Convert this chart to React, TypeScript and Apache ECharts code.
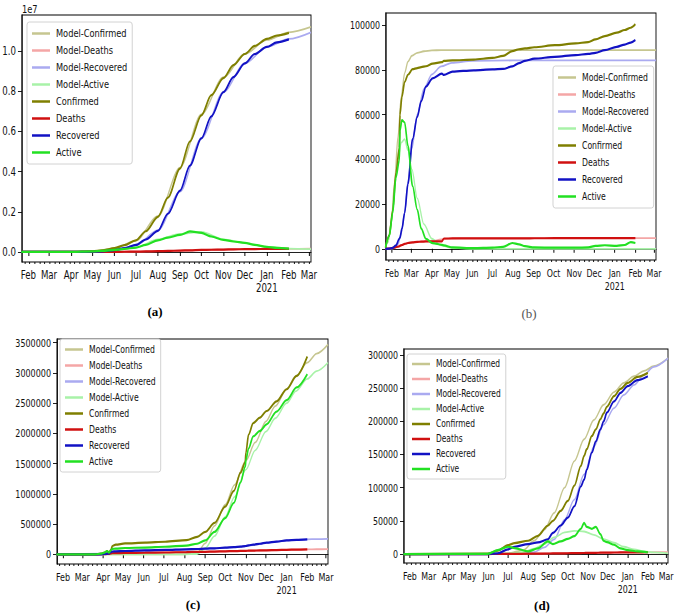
import React, { useEffect, useRef } from "react";
import * as echarts from "echarts";

// ---------- shared axis values ----------
const MONTH_TICKS = ["2020-02-01","2020-03-01","2020-04-01","2020-05-01","2020-06-01","2020-07-01","2020-08-01","2020-09-01","2020-10-01","2020-11-01","2020-12-01","2021-01-01","2021-02-01","2021-03-01"];
const MONTH_LABELS = ["Feb","Mar","Apr","May","Jun","Jul","Aug","Sep","Oct","Nov","Dec","Jan\n2021","Feb","Mar"];
const SERIES_NAMES = ["Confirmed","Deaths","Recovered","Active"];

// ---------- panel (a) : values in units of 1e7 ----------
const aDates = ["2020-01-22","2020-03-01","2020-04-01","2020-05-01","2020-05-15","2020-06-01","2020-06-15","2020-07-01","2020-07-15","2020-08-01","2020-08-15","2020-09-01","2020-09-15","2020-10-01","2020-10-15","2020-11-01","2020-11-15","2020-12-01","2020-12-15","2021-01-01","2021-01-15","2021-02-01"];
const aConfirmed = [0,0,0.0002,0.0035,0.008,0.019,0.034,0.058,0.103,0.175,0.27,0.415,0.55,0.68,0.78,0.865,0.93,0.985,1.025,1.06,1.077,1.09];
const aDeaths = [0,0,0,0.0001,0.0003,0.0005,0.001,0.0017,0.0025,0.004,0.005,0.007,0.0082,0.01,0.011,0.012,0.013,0.0137,0.0144,0.0149,0.0152,0.0154];
const aRecovered = [0,0,0,0.001,0.003,0.009,0.019,0.035,0.062,0.105,0.19,0.305,0.43,0.565,0.675,0.795,0.87,0.938,0.985,1.02,1.043,1.058];
const aActive = [0,0,0.0002,0.0025,0.005,0.01,0.015,0.022,0.035,0.058,0.071,0.085,0.102,0.095,0.077,0.06,0.052,0.045,0.035,0.025,0.02,0.017];
const aModelDates = ["2020-01-22","2020-04-01","2020-05-01","2020-06-01","2020-07-01","2020-08-01","2020-09-01","2020-10-01","2020-11-01","2020-12-01","2021-01-01","2021-02-01","2021-03-04"];
const aModelConfirmed = [0,0,0.003,0.018,0.056,0.178,0.42,0.685,0.87,0.985,1.055,1.093,1.12];
const aModelDeaths = [0,0,0.0001,0.0005,0.0017,0.004,0.007,0.01,0.012,0.0137,0.0149,0.0155,0.016];
const aModelRecovered = [0,0,0.001,0.008,0.033,0.108,0.30,0.565,0.795,0.938,1.02,1.06,1.093];
const aModelActive = [0,0,0.002,0.01,0.022,0.062,0.09,0.1,0.063,0.045,0.025,0.017,0.014];
const aYTicks = [0,0.2,0.4,0.6,0.8,1.0];

// ---------- panel (b) : values in thousands ----------
const bDates = ["2020-01-22","2020-01-28","2020-02-02","2020-02-07","2020-02-12","2020-02-13","2020-02-16","2020-02-20","2020-02-25","2020-03-03","2020-03-10","2020-03-16","2020-03-23","2020-04-02","2020-04-16","2020-04-19","2020-05-02","2020-06-03","2020-07-01","2020-07-17","2020-07-31","2020-08-10","2020-08-19","2020-09-02","2020-10-03","2020-11-03","2020-11-22","2020-12-03","2020-12-17","2021-01-04","2021-01-16","2021-01-25","2021-02-01"];
const bConfirmed = [0.5,6,17,34,45,60,68,74.5,77.8,80.3,80.8,81.2,81.6,82.8,83.4,84,84.2,84.6,85.3,86.2,88.4,89.2,89.6,90.1,91,91.8,92.4,93.6,95.1,96.6,97.8,98.8,100.4];
const bDeaths = [0,0.1,0.4,0.7,1.1,1.4,1.7,2.2,2.6,2.9,3.1,3.2,3.3,3.3,3.35,4.6,4.63,4.64,4.65,4.66,4.68,4.7,4.7,4.72,4.74,4.75,4.76,4.77,4.78,4.8,4.8,4.8,4.8];
const bRecovered = [0,0.1,0.4,1.5,4.5,5,9,16,29,49,59,66,72.5,76.2,78.3,77.7,79.2,79.8,80.2,80.4,81.5,83,84,85,85.8,86.6,87.1,87.6,88.8,90.3,91.3,92.2,93.3];
const bActive = [0.5,5.8,16,32,39.5,53,57.5,56.5,46,28,17.5,9,4.5,2.5,1.8,1.5,0.6,0.3,0.5,0.9,2.6,2,1.2,0.6,0.5,0.5,0.6,1.3,1.6,1.3,1.7,3,2.6];
const bModelDates = ["2020-01-22","2020-01-26","2020-01-31","2020-02-05","2020-02-10","2020-02-15","2020-02-20","2020-02-25","2020-03-02","2020-03-10","2020-03-20","2020-04-01","2020-04-15","2020-05-01","2020-06-01","2020-08-01","2021-03-04"];
const bModelConfirmed = [0.5,3,12,30,50,68,78.5,83.7,86.3,87.6,88.3,88.7,88.8,88.8,88.8,88.8,88.8];
const bModelDeaths = [0,0.1,0.3,0.6,1,1.6,2.1,2.5,2.8,3.1,3.3,3.4,4.2,4.7,4.8,4.8,4.8];
const bModelRecovered = [0,0,0.1,0.3,2,7,16,30,45,60,71.5,78,81.5,83.1,84,84.2,84.2];
const bModelActive = [0.5,3,11.5,28,40,47.5,49,44,35.5,22.5,11,4.5,1.5,0.4,0,0,0];
const bYTicks = [0,20000,40000,60000,80000,100000];

// ---------- panel (c) : values in thousands ----------
const cDates = ["2020-01-22","2020-03-20","2020-03-29","2020-04-03","2020-04-07","2020-04-10","2020-04-13","2020-04-15","2020-04-20","2020-05-04","2020-06-03","2020-07-03","2020-08-04","2020-08-20","2020-09-01","2020-09-15","2020-10-01","2020-10-14","2020-10-24","2020-10-31","2020-11-01","2020-11-05","2020-11-12","2020-11-22","2020-12-02","2020-12-17","2021-01-01","2021-01-16","2021-02-01"];
const cConfirmed = [0,0,10,27,55,27,80,138,160,180,193,208,235,290,370,520,790,1050,1350,1520,1680,1980,2170,2260,2370,2530,2730,2950,3270];
const cDeaths = [0,0,1,3,5,7,16,18,20,22,27,30,38,40,42,45,50,53,56,58,58,60,62,64,66,70,75,79,83];
const cRecovered = [0,0,0,5,10,15,38,45,50,55,66,72,83,88,94,100,110,118,128,136,138,148,160,175,193,210,231,240,248];
const cActive = [0,0,10,27,55,27,70,90,95,105,112,125,145,175,230,370,600,850,1190,1450,1560,1750,1950,2040,2150,2360,2550,2760,2980];
const cModelDates = ["2020-01-22","2020-04-01","2020-05-01","2020-06-01","2020-07-01","2020-08-01","2020-08-20","2020-09-01","2020-09-15","2020-10-01","2020-10-15","2020-11-01","2020-11-15","2020-12-01","2020-12-15","2021-01-01","2021-01-15","2021-02-01","2021-02-15","2021-03-04"];
const cModelConfirmed = [0,0,0,0,0,0,20,180,470,820,1150,1550,1850,2200,2450,2730,2950,3170,3320,3470];
const cModelDeaths = [0,1,20,27,31,37,40,42,45,50,53,58,61,65,69,75,79,83,84,85];
const cModelRecovered = [0,10,50,65,72,82,88,94,100,110,120,138,155,190,208,230,240,248,252,256];
const cModelActive = [0,0,0,0,0,0,5,100,300,620,950,1400,1720,2030,2250,2500,2700,2900,3030,3170];
const cYTicks = [0,500000,1000000,1500000,2000000,2500000,3000000,3500000];

// ---------- panel (d) : values in thousands ----------
const dDates = ["2020-01-22","2020-05-31","2020-06-15","2020-07-01","2020-07-11","2020-08-01","2020-08-16","2020-08-31","2020-09-08","2020-09-20","2020-10-01","2020-10-11","2020-10-21","2020-10-26","2020-10-30","2020-11-07","2020-11-13","2020-11-20","2020-11-25","2020-11-30","2020-12-11","2020-12-21","2021-01-01","2021-01-16","2021-02-01"];
const dConfirmed = [0,0.5,5,13.5,16.5,20,27.5,42.6,50,65,80,103,133,148,158,178,188,203,212,222,238,249,258,267,273];
const dDeaths = [0,0,0.1,0.2,0.3,0.5,0.6,0.8,0.9,1,1.2,1.3,1.5,1.6,1.7,1.8,1.9,2,2.1,2.2,2.3,2.4,2.5,2.6,2.7];
const dRecovered = [0,0,1,7,11,15,17.5,22,32,43,55,72,102,112,127,153,170,188,200,213,230,243,253,262,268];
const dActive = [0,0.3,6,11,9,4,8.5,19,15,19,23,27,38,47,41,38,41,30,20,18,14,8.5,6,4,2.5];
const dModelDates = ["2020-01-22","2020-06-01","2020-07-01","2020-07-25","2020-08-10","2020-08-26","2020-09-10","2020-09-26","2020-10-11","2020-10-26","2020-11-10","2020-11-25","2020-12-11","2020-12-26","2021-01-11","2021-01-26","2021-02-10","2021-03-04"];
const dModelConfirmed = [0,0.2,1,6,20,37,62,100,140,173,202,225,244,258,268,276,283,295];
const dModelDeaths = [0,0,0.2,0.4,0.6,0.8,1,1.2,1.4,1.6,1.8,2,2.2,2.4,2.5,2.6,2.7,2.8];
const dModelRecovered = [0,0,0.2,1,3,10,22,52,82,120,162,195,220,240,255,270,282,295];
const dModelActive = [0,0.2,1,3,8,15,25,32.6,35,34,29,22.5,17,11,7,4,2.5,1];
const dYTicks = [0,50000,100000,150000,200000,250000,300000];

// ---------- styling ----------
const S = 0.75; // horizontal squeeze of the whole figure (the reference is horizontally compressed)
const FONT = "'DejaVu Sans', sans-serif";
const SERIF = "'Liberation Serif', 'DejaVu Serif', serif";
const COLORS: Record<string, string> = {
  Confirmed: "#7f7f00",
  Deaths: "#d01010",
  Recovered: "#1212c4",
  Active: "#22e022",
  "Model-Confirmed": "#c6c690",
  "Model-Deaths": "#f4a6a6",
  "Model-Recovered": "#aaaaf0",
  "Model-Active": "#a8f2a8",
};
const X_MIN = 22;
const X_MAX = 428;

function toDay(s: string): number {
  const [y, m, d] = s.split("-").map(Number);
  return (Date.UTC(y, m - 1, d) - Date.UTC(2020, 0, 1)) / 86400000;
}
const hx = (px: number) => px / S;

const monthDays = MONTH_TICKS.map(toDay);
const weekDays: number[] = [];
for (let d = 5; d <= X_MAX; d += 7) if (d >= X_MIN) weekDays.push(d);

type Panel = {
  grid: { left: number; top: number; width: number; height: number };
  yMin: number; yMax: number; yTicks: number[]; yFmt: (v: number) => string; unit: number;
  dates: string[]; modelDates: string[];
  actual: Record<string, number[]>; model: Record<string, number[]>;
  legend: { left: number; top: number; gap: number; font: number; lineHeight: number; pad: number };
  font: number;
};

const panels: Panel[] = [
  {
    grid: { left: 21, top: 15, width: 290, height: 247 },
    yMin: -0.05, yMax: 1.179, yTicks: aYTicks, yFmt: (v) => v.toFixed(1), unit: 1,
    dates: aDates, modelDates: aModelDates,
    actual: { Confirmed: aConfirmed, Deaths: aDeaths, Recovered: aRecovered, Active: aActive },
    model: { Confirmed: aModelConfirmed, Deaths: aModelDeaths, Recovered: aModelRecovered, Active: aModelActive },
    legend: { left: 27, top: 22, gap: 4, font: 11, lineHeight: 13, pad: 4 },
    font: 11.5,
  },
  {
    grid: { left: 386, top: 13, width: 270, height: 247 },
    yMin: -5000, yMax: 105400, yTicks: bYTicks, yFmt: (v) => String(v), unit: 1000,
    dates: bDates, modelDates: bModelDates,
    actual: { Confirmed: bConfirmed, Deaths: bDeaths, Recovered: bRecovered, Active: bActive },
    model: { Confirmed: bModelConfirmed, Deaths: bModelDeaths, Recovered: bModelRecovered, Active: bModelActive },
    legend: { left: 553, top: 66, gap: 4, font: 10.3, lineHeight: 13, pad: 4 },
    font: 10.5,
  },
  {
    grid: { left: 57, top: 339, width: 271, height: 225 },
    yMin: -160000, yMax: 3561000, yTicks: cYTicks, yFmt: (v) => String(v), unit: 1000,
    dates: cDates, modelDates: cModelDates,
    actual: { Confirmed: cConfirmed, Deaths: cDeaths, Recovered: cRecovered, Active: cActive },
    model: { Confirmed: cModelConfirmed, Deaths: cModelDeaths, Recovered: cModelRecovered, Active: cModelActive },
    legend: { left: 60, top: 339, gap: 3, font: 10.3, lineHeight: 13, pad: 3 },
    font: 10.7,
  },
  {
    grid: { left: 404, top: 349, width: 264, height: 214 },
    yMin: -13500, yMax: 309000, yTicks: dYTicks, yFmt: (v) => String(v), unit: 1000,
    dates: dDates, modelDates: dModelDates,
    actual: { Confirmed: dConfirmed, Deaths: dDeaths, Recovered: dRecovered, Active: dActive },
    model: { Confirmed: dModelConfirmed, Deaths: dModelDeaths, Recovered: dModelRecovered, Active: dModelActive },
    legend: { left: 407, top: 354, gap: 3, font: 10, lineHeight: 12, pad: 3 },
    font: 10.5,
  },
];

function buildOption() {
  const grid: any[] = [];
  const xAxis: any[] = [];
  const yAxis: any[] = [];
  const legend: any[] = [];
  const series: any[] = [];
  const legendNames = [...SERIES_NAMES.map((n) => "Model-" + n), ...SERIES_NAMES];

  panels.forEach((p, i) => {
    grid.push({
      left: hx(p.grid.left), top: p.grid.top, width: hx(p.grid.width), height: p.grid.height,
      show: true, borderColor: "#000", borderWidth: 1.2, backgroundColor: "transparent",
    });
    xAxis.push({
      type: "value", gridIndex: i, min: X_MIN, max: X_MAX,
      axisLine: { show: true, lineStyle: { color: "#000", width: 1 } },
      axisTick: { show: true, length: 4, lineStyle: { color: "#000", width: 1.3 }, customValues: monthDays },
      axisLabel: {
        customValues: monthDays, margin: 7, color: "#111", fontFamily: FONT, fontSize: p.font, lineHeight: 13,
        formatter: (v: number) => { const k = monthDays.indexOf(v); return k >= 0 ? MONTH_LABELS[k] : ""; },
      },
      splitLine: { show: false },
    });
    xAxis.push({
      type: "value", gridIndex: i, min: X_MIN, max: X_MAX, position: "bottom",
      axisLine: { show: false },
      axisTick: { show: true, length: 2, lineStyle: { color: "#000", width: 1.2 }, customValues: weekDays },
      axisLabel: { show: false },
      splitLine: { show: false },
    });
    yAxis.push({
      type: "value", gridIndex: i, min: p.yMin, max: p.yMax,
      axisLine: { show: true, lineStyle: { color: "#000", width: 1.3 } },
      axisTick: { show: true, length: hx(4), lineStyle: { color: "#000" }, customValues: p.yTicks },
      axisLabel: { customValues: p.yTicks, margin: hx(6), color: "#111", fontFamily: FONT, fontSize: p.font, formatter: (v: number) => p.yFmt(v) },
      splitLine: { show: false },
    });
    legend.push({
      orient: "vertical", left: hx(p.legend.left), top: p.legend.top,
      itemWidth: hx(18), itemHeight: 2.5, itemGap: p.legend.gap,
      padding: [p.legend.pad + 1, hx(5), p.legend.pad + 1, hx(5)],
      backgroundColor: "rgba(255,255,255,0.85)", borderColor: "#cccccc", borderWidth: 1, borderRadius: 3,
      selectedMode: false,
      textStyle: { fontFamily: FONT, fontSize: p.legend.font, color: "#111", lineHeight: p.legend.lineHeight, padding: [0, 0, 0, 3] },
      data: legendNames.map((n) => ({ name: n, icon: "rect", itemStyle: { color: COLORS[n] } })),
    });
    const xi = i * 2;
    SERIES_NAMES.forEach((n) => {
      const name = "Model-" + n;
      series.push({
        name, type: "line", xAxisIndex: xi, yAxisIndex: i, showSymbol: false, symbol: "none",
        smooth: 0.3, smoothMonotone: "x", clip: true, z: 2,
        lineStyle: { color: COLORS[name], width: 1.8 }, itemStyle: { color: COLORS[name] },
        data: p.modelDates.map((d, k) => [toDay(d), p.model[n][k] * p.unit]),
      });
    });
    SERIES_NAMES.forEach((n) => {
      series.push({
        name: n, type: "line", xAxisIndex: xi, yAxisIndex: i, showSymbol: false, symbol: "none",
        smooth: 0.3, smoothMonotone: "x", clip: true, z: 3,
        lineStyle: { color: COLORS[n], width: 2.2 }, itemStyle: { color: COLORS[n] },
        data: p.dates.map((d, k) => [toDay(d), p.actual[n][k] * p.unit]),
      });
    });
  });

  const caption = (text: string, x: number, y: number, bold: boolean, fill: string) => ({
    type: "text", x: hx(x), y, scaleX: 1 / S,
    style: { text, font: `${bold ? "bold " : ""}13px ${SERIF}`, fill, textAlign: "center", textVerticalAlign: "middle" },
  });
  const graphic: any[] = [
    { type: "text", x: hx(22), y: 9, style: { text: "1e7", font: `11px ${FONT}`, fill: "#111", textVerticalAlign: "middle" } },
    caption("(a)", 155, 311, true, "#000"),
    caption("(b)", 529, 313, false, "#555"),
    caption("(c)", 193, 604, true, "#000"),
    caption("(d)", 542, 605, true, "#000"),
  ];

  return { animation: false, backgroundColor: "#fff", grid, xAxis, yAxis, legend, series, graphic };
}

export default function App() {
  const ref = useRef<HTMLDivElement>(null);
  useEffect(() => {
    if (!ref.current) return;
    const chart = echarts.init(ref.current, undefined, { renderer: "svg" });
    chart.setOption(buildOption() as any);
    return () => chart.dispose();
  }, []);
  return (
    <div
      ref={ref}
      style={{ position: "absolute", left: 0, top: 0, width: 676 / S, height: 613, transform: `scaleX(${S})`, transformOrigin: "0 0" }}
    />
  );
}
